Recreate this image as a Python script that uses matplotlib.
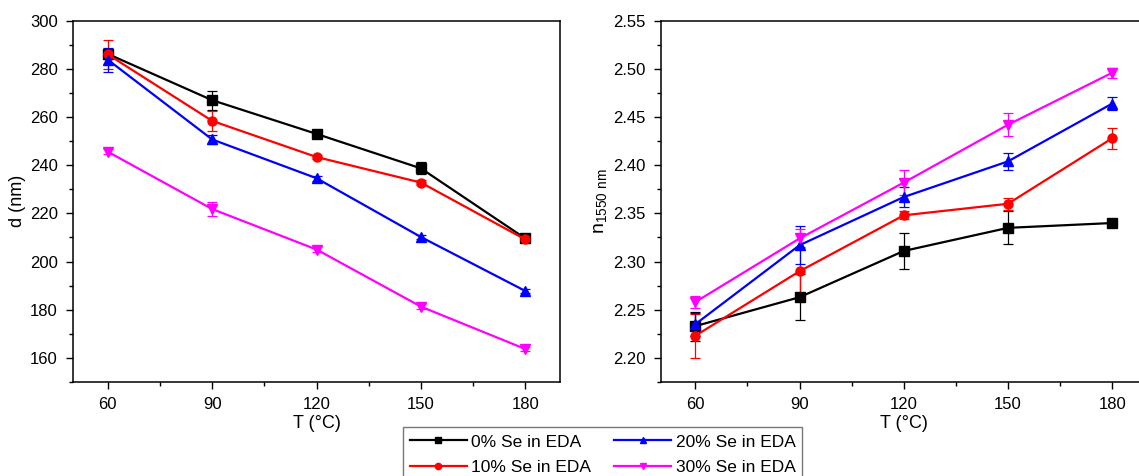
import numpy as np
import matplotlib.pyplot as plt
from matplotlib.ticker import MultipleLocator
from matplotlib.lines import Line2D

plt.rcParams['font.family'] = ['Liberation Sans', 'DejaVu Sans']
plt.rcParams['mathtext.default'] = 'regular'

# Data
temps = [60, 90, 120, 150, 180]
labels = ['0% Se in EDA', '10% Se in EDA', '20% Se in EDA', '30% Se in EDA']

d_0 = [286.2, 267.0, 253.0, 238.7, 209.6]
d_10 = [286.0, 258.4, 243.4, 232.8, 209.2]
d_20 = [283.8, 250.7, 234.6, 210.2, 187.8]
d_30 = [245.6, 221.8, 205.0, 181.3, 163.7]
d_err_0 = [2.0, 4.0, 1.5, 2.5, 1.0]
d_err_10 = [6.0, 4.0, 1.0, 1.0, 1.0]
d_err_20 = [5.0, 2.0, 1.0, 1.0, 1.0]
d_err_30 = [1.0, 3.0, 1.0, 1.0, 1.0]

n_0 = [2.233, 2.263, 2.311, 2.335, 2.340]
n_10 = [2.223, 2.290, 2.348, 2.360, 2.428]
n_20 = [2.235, 2.317, 2.367, 2.404, 2.464]
n_30 = [2.258, 2.324, 2.382, 2.442, 2.496]
n_err_0 = [0.015, 0.024, 0.019, 0.017, 0.002]
n_err_10 = [0.023, 0.025, 0.004, 0.006, 0.011]
n_err_20 = [0.012, 0.020, 0.010, 0.009, 0.007]
n_err_30 = [0.006, 0.010, 0.013, 0.012, 0.005]

colors = ['black', '#FF0000', '#0000FF', '#FF00FF']
markers = ['s', 'o', '^', 'v']

fig = plt.figure(figsize=(11.39, 4.76), dpi=100)
ax1 = fig.add_axes([0.0641, 0.1975, 0.4276, 0.759])
ax2 = fig.add_axes([0.5800, 0.1975, 0.4270, 0.759])

d_series = [(d_0, d_err_0), (d_10, d_err_10), (d_20, d_err_20), (d_30, d_err_30)]
n_series = [(n_0, n_err_0), (n_10, n_err_10), (n_20, n_err_20), (n_30, n_err_30)]

for ax, series in [(ax1, d_series), (ax2, n_series)]:
    for (vals, errs), c, m, lab in zip(series, colors, markers, labels):
        ax.errorbar(temps, vals, yerr=errs, color=c, marker=m, markersize=6.5,
                    linewidth=1.6, elinewidth=0.9, capsize=3.5, capthick=0.9,
                    label=lab)

for ax in (ax1, ax2):
    ax.set_xlim(50, 190)
    ax.set_xticks(temps)
    ax.xaxis.set_minor_locator(MultipleLocator(15))
    ax.tick_params(which='both', direction='out', top=False, right=False,
                   labelsize=12, width=1)
    ax.tick_params(which='major', length=5, pad=6)
    ax.tick_params(which='minor', length=3)
    for s in ax.spines.values():
        s.set_linewidth(1.1)
    ax.set_xlabel('T (°C)', fontsize=13, labelpad=2)

# the right panel is cut off at the figure edge in the reference
ax2.spines['right'].set_visible(False)

ax1.set_ylim(150, 300)
ax1.yaxis.set_major_locator(MultipleLocator(20))
ax1.yaxis.set_minor_locator(MultipleLocator(10))
ax1.set_ylabel('d (nm)', fontsize=13, labelpad=3)

ax2.set_ylim(2.175, 2.55)
ax2.yaxis.set_major_locator(MultipleLocator(0.05))
ax2.yaxis.set_minor_locator(MultipleLocator(0.025))
ax2.yaxis.set_major_formatter(plt.FormatStrFormatter('%.2f'))
ax2.set_ylabel(r'$n_{1550\ nm}$', fontsize=14, labelpad=3)

handles = [Line2D([], [], color=c, marker=m, markersize=4.5, linewidth=1.6)
           for c, m in zip(colors, markers)]
leg = fig.legend(handles, labels, loc='upper center', bbox_to_anchor=(0.529, 0.102),
                 ncol=2, fontsize=12.5, frameon=True, fancybox=False,
                 edgecolor='#555555', handlelength=3.3, columnspacing=1.3,
                 handletextpad=0.25, borderpad=0.4, labelspacing=0.6,
                 borderaxespad=0)
leg.get_frame().set_linewidth(1.0)

fig.savefig('out.png', dpi=100)
